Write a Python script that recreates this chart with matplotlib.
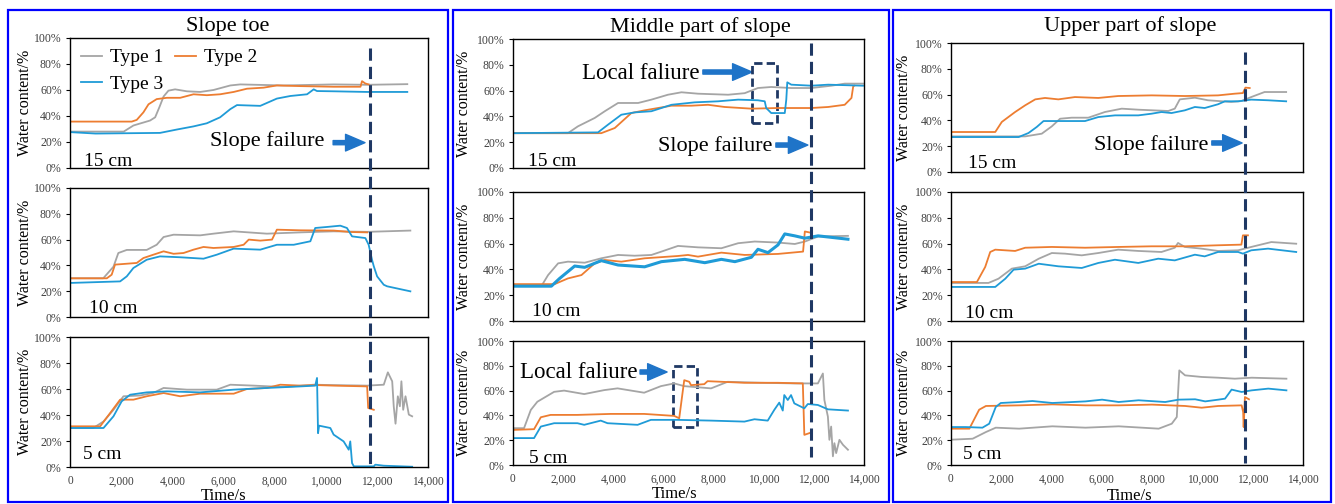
import numpy as np
import matplotlib
matplotlib.use('Agg')
import matplotlib.pyplot as plt
import matplotlib.transforms as mtransforms
from matplotlib.patches import Rectangle, FancyArrowPatch
from matplotlib.lines import Line2D

plt.rcParams['font.family'] = ['Liberation Serif', 'DejaVu Serif']

# ---- data (time in s, water content in %) ----
# slope toe, 15 cm
toe15_x1 = [0, 2100, 2480, 3130, 3330, 3500, 3660, 3850, 4110, 4570, 5090, 5610, 6270, 6660, 8350, 10310, 11620, 13190]
toe15_y1 = [28, 28, 32.7, 36.5, 39, 47, 55, 59.5, 60.5, 59, 58.5, 60, 63.5, 64.3, 63.5, 64.3, 64, 64.5]
toe15_x2 = [0, 2415, 2610, 2870, 3070, 3390, 3790, 4310, 4830, 5350, 5870, 6400, 6920, 7570, 8090, 9010, 10310, 11360, 11420, 11550, 11680]
toe15_y2 = [35.7, 35.7, 37, 42.8, 49, 53, 54, 54, 56.7, 56, 56.7, 58.5, 61, 61.8, 63.5, 63, 62.5, 62.5, 66.8, 65, 64.3]
toe15_x3 = [0, 1000, 3520, 4180, 4830, 5350, 5870, 6270, 6530, 7440, 8090, 8620, 9270, 9530, 9660, 10310, 11620, 13190]
toe15_y3 = [27.6, 26.5, 27, 29.6, 32, 34.4, 39, 45.3, 48.4, 47.8, 53.4, 55.4, 56.7, 60.5, 59.2, 59, 58.5, 58.5]
# slope toe, 10 cm
toe10_x1 = [0, 1300, 1700, 1890, 2220, 3000, 3390, 3660, 4050, 5090, 5610, 6400, 7700, 9010, 10310, 11620, 13310]
toe10_y1 = [30, 30, 39, 49.6, 52, 52, 56, 62, 63.8, 63.3, 64.6, 66.4, 64.6, 65.6, 66.4, 66, 67]
toe10_x2 = [0, 1440, 1630, 1760, 2220, 2610, 2870, 3260, 3660, 4050, 4440, 4830, 5220, 5610, 6400, 6790, 6990, 7440, 7900, 8090, 9010, 10310, 10960, 11620]
toe10_y2 = [30, 30, 32.8, 40.6, 41.3, 41.9, 45.7, 48.3, 50.9, 49, 49.6, 52.2, 54.3, 53.5, 54.3, 56, 60, 59.2, 60, 67.7, 67.2, 67, 65.9, 65.6]
toe10_x3 = [0, 1960, 2220, 2480, 3000, 3520, 4310, 5220, 5740, 6400, 7440, 8090, 8750, 9400, 9590, 10050, 10570, 10830, 11030, 11550, 11680, 11810, 11880, 12010, 12270, 12400, 13310]
toe10_y3 = [26.4, 27.6, 31.5, 38, 44.4, 47, 46.3, 45.2, 48.3, 53, 52.2, 56, 56, 58.7, 69, 69.8, 70.8, 69, 62.5, 61.2, 56, 44.4, 39.3, 31.5, 25, 23.8, 19.9]
# slope toe, 5 cm
toe5_x1 = [0, 910, 1310, 1700, 2090, 2740, 3260, 3660, 4570, 5740, 6270, 7180, 8350, 9530, 10310, 11620, 12270, 12430, 12600, 12660, 12730, 12820, 12900, 12960, 13030, 13120, 13250, 13380]
toe5_y1 = [30, 30, 35, 44, 54.4, 55, 57, 60.8, 59.5, 59.5, 63.3, 62.6, 61.5, 63.3, 63, 62.6, 63.3, 72.8, 65.9, 46.7, 33.3, 54.4, 46.7, 65.9, 44, 54.4, 40.3, 39]
toe5_x2 = [0, 1180, 1570, 1960, 2480, 3000, 3660, 4310, 5090, 6400, 6920, 7700, 8220, 9010, 9660, 10310, 11620, 11660, 11880]
toe5_y2 = [31.3, 31.3, 41.5, 51.8, 51.8, 54.4, 56.9, 54.4, 56.4, 56.4, 60, 60.8, 63.3, 62.6, 63, 62.6, 62, 45.4, 44]
toe5_x3 = [0, 1310, 1700, 2020, 2350, 3000, 3790, 5090, 6400, 7700, 9010, 9590, 9660, 9700, 9740, 10180, 10310, 10700, 10900, 10960, 11030, 11100, 11880, 11940, 12270, 13380]
toe5_y3 = [30, 30, 39, 50.5, 55.6, 57.4, 58.2, 57.4, 59.5, 60.8, 62, 62.6, 68.5, 26, 31.8, 30, 24.9, 19.7, 13.3, 19.7, 3, 0.5, 0.5, 1.8, 1, 0.2]

# middle part, 15 cm
mid15_x1 = [0, 2190, 2590, 3260, 3660, 4190, 4990, 5520, 6180, 6720, 7380, 8580, 9240, 9770, 10300, 11100, 11900, 12700, 13230, 13960]
mid15_y1 = [27, 27, 32.3, 38.8, 44, 50.4, 50.4, 53, 56.8, 58.7, 57.6, 56.8, 58, 62, 62.8, 62, 62, 63.8, 65.4, 65.4]
mid15_x2 = [0, 3520, 4060, 4720, 5250, 6320, 7110, 7780, 8440, 9510, 10570, 11900, 12570, 13230, 13500, 13570, 13610]
mid15_y2 = [27, 27, 31, 42.6, 44.7, 48.3, 48.3, 49, 47.3, 46, 46.5, 46.5, 47.3, 49, 54.3, 63.3, 63.8]
mid15_x3 = [0, 3390, 3790, 4320, 4850, 5520, 6320, 7250, 8180, 8980, 9770, 10040, 10100, 10300, 10840, 10900, 10940, 11100, 11900, 12570, 13960]
mid15_y3 = [27, 27.6, 33.6, 41.3, 43.1, 44, 49, 50.9, 51.7, 53, 52.5, 51.7, 46.5, 42.6, 42.6, 53, 66.4, 64.6, 63.8, 64.6, 63.8]
# middle part, 10 cm
mid10_x1 = [0, 1130, 1400, 1800, 2190, 2860, 3520, 4190, 4850, 5520, 5920, 6580, 7380, 8310, 8980, 9640, 10570, 11240, 11640, 12170, 13360]
mid10_y1 = [27, 27, 35.6, 44.7, 46, 45.2, 48.6, 51.2, 50.6, 51.2, 53.8, 58.2, 57.1, 56.4, 60.3, 61.6, 60.8, 59.7, 61.6, 65.5, 66]
mid10_x2 = [0, 1660, 2190, 2730, 3260, 3660, 4320, 5250, 6580, 6980, 7380, 8310, 9240, 10570, 11570, 11640, 11840]
mid10_y2 = [28.6, 28.6, 33, 35.6, 44.7, 47.3, 46, 48.6, 50.4, 51.2, 49.9, 53, 51.2, 52, 53.8, 69.4, 68.6]
mid10_x3 = [0, 1530, 1860, 2460, 2860, 3520, 4190, 5250, 5920, 6850, 7650, 8310, 8850, 9510, 9770, 10170, 10570, 10840, 11240, 11640, 12170, 13360]
mid10_y3 = [27, 27, 33, 42.6, 41.6, 46.8, 43.4, 42, 46, 47.8, 45.2, 47.8, 46, 49.4, 55.6, 53, 59, 67.5, 66, 64.2, 66, 63.4]
# middle part, 5 cm
mid5_x1 = [0, 440, 710, 970, 1640, 2040, 2840, 3640, 4170, 5230, 5900, 6430, 6830, 7900, 8560, 9890, 11220, 12160, 12360, 12420, 12560, 12620, 12690, 12760, 12820, 12890, 13020, 13160, 13360]
mid5_y1 = [29.7, 29.7, 44.4, 51, 59, 60, 57.2, 60.4, 61.8, 58.3, 63.6, 65.8, 63.6, 61.8, 67.1, 66.3, 65.8, 65.8, 73.8, 52.4, 39, 20.3, 31, 7, 17.6, 9.6, 20.3, 16.3, 12.3]
mid5_x2 = [0, 840, 1110, 1500, 2570, 3900, 5230, 6430, 6630, 6760, 6830, 7030, 7100, 7630, 7760, 9230, 10560, 11560, 11620, 11820]
mid5_y2 = [28.3, 28.9, 38.5, 40.4, 40.4, 41.2, 41.2, 39.6, 37.7, 57.8, 68.4, 67.1, 64.4, 65.2, 67.6, 66.3, 66.3, 65.8, 24.3, 25.7]
mid5_x3 = [0, 840, 1110, 1640, 2570, 2840, 3500, 3770, 4970, 5500, 6560, 7900, 9230, 9630, 10160, 10420, 10620, 10760, 10820, 10960, 11090, 11220, 11620, 11760, 12160, 12560, 13360]
mid5_y3 = [21.7, 21.7, 31, 33.7, 33.7, 32.4, 35.8, 33.7, 32.4, 36.4, 36.4, 35.8, 35, 36.9, 35.8, 44.4, 50.3, 43.9, 56.4, 52.4, 56.4, 49.7, 45.7, 49.2, 48.4, 44.9, 43.9]

# upper part, 15 cm
up15_x1 = [0, 2950, 3610, 4010, 4340, 4800, 5460, 6120, 6790, 7450, 8640, 8900, 9100, 9700, 10220, 11140, 11550, 11940, 12470, 13330]
up15_y1 = [27.6, 27.6, 29.7, 35.4, 41.3, 42.1, 42.1, 46.5, 49.1, 48.3, 47.3, 49.1, 56.3, 57.6, 55.6, 54.3, 55, 58.1, 62, 62]
up15_x2 = [0, 1760, 2020, 2550, 2950, 3350, 3740, 4270, 4930, 5860, 6650, 7980, 9300, 10620, 11280, 11610, 11710, 11880]
up15_y2 = [31, 31, 38.8, 46.5, 51.7, 56.3, 57.4, 56.3, 58.1, 57.4, 58.9, 59.4, 58.9, 59.4, 60.7, 61.2, 65.4, 65.1]
up15_x3 = [0, 2690, 3080, 3410, 3680, 4270, 5330, 5860, 6520, 7450, 7980, 8370, 8770, 9300, 9700, 10090, 10620, 10890, 11420, 11940, 12610, 13330]
up15_y3 = [27.1, 27.1, 30.2, 34.9, 39.5, 39.5, 39.5, 42.6, 43.9, 43.9, 45.2, 46.5, 45.7, 47.8, 50.4, 49.6, 52.5, 54.8, 54.8, 56.1, 55.6, 54.8]
# upper part, 10 cm
up10_x1 = [0, 1490, 1890, 2420, 2950, 3490, 4010, 4540, 5200, 5860, 6650, 7450, 8370, 8900, 9030, 9300, 9960, 10620, 11420, 11940, 12740, 13730]
up10_y1 = [29.5, 29.5, 32.8, 40.6, 42.4, 48.3, 52.7, 52.2, 50.9, 52.7, 55.3, 54.3, 53.5, 56.8, 60.5, 57.4, 56.1, 54.3, 54.8, 57.4, 61.2, 59.9]
up10_x2 = [0, 1030, 1360, 1560, 1760, 2550, 2950, 4010, 5330, 6650, 7980, 9300, 10620, 11550, 11610, 11810]
up10_y2 = [30.2, 30.2, 41.9, 53.5, 55.3, 54.3, 56.8, 57.4, 56.8, 57.4, 57.9, 57.9, 58.7, 59.2, 66.4, 66.4]
up10_x3 = [0, 1760, 2160, 2490, 2950, 3490, 4270, 5200, 5860, 6520, 7450, 8240, 8900, 9700, 10090, 10620, 11420, 11610, 11940, 12610, 13730]
up10_y3 = [26.4, 26.4, 32.8, 39.8, 40.6, 44.4, 42.4, 41.1, 45, 47.5, 45, 48.3, 47, 51.4, 50.1, 53.5, 53.5, 52.2, 54.8, 56.1, 53.5]
# upper part, 5 cm
up5_x1 = [0, 860, 1390, 1780, 2710, 4030, 5350, 6670, 8260, 8780, 8980, 9080, 9310, 9970, 10630, 11290, 11960, 13340]
up5_y1 = [20.4, 21.2, 26.6, 30.1, 29.3, 31.2, 30.1, 31.2, 29.3, 33.3, 38.7, 76.3, 72.3, 71, 70.4, 69.6, 70.4, 69.6]
up5_x2 = [0, 730, 1120, 1390, 2710, 4030, 5350, 6670, 7990, 9310, 9970, 10630, 11560, 11620, 11640, 11690, 11850]
up5_y2 = [29.3, 29.3, 44.6, 47.6, 48.1, 48.9, 48.1, 48.1, 48.7, 47.6, 46.2, 47.6, 48.1, 42.7, 30.6, 54.8, 53]
up5_x3 = [0, 590, 1250, 1520, 1780, 1980, 2710, 3240, 4030, 5350, 6010, 6670, 7460, 8520, 9050, 9710, 10110, 10630, 10900, 11160, 11560, 11960, 12620, 13340]
up5_y3 = [30.6, 30.6, 30.1, 33.3, 46.8, 50, 50.8, 51.6, 50, 51.3, 52.7, 50.8, 52.2, 50.8, 52.7, 53, 51.3, 52.7, 53.5, 60.8, 58.9, 60.2, 61.6, 60.2]

series_names = ['Type 1', 'Type 2', 'Type 3']
depth_labels = ['15 cm', '10 cm', '5 cm']
titles = ['Slope toe', 'Middle part of slope', 'Upper part of slope']
failure_time = [11750, 11900, 11680]
x_ticks = [0, 2000, 4000, 6000, 8000, 10000, 12000, 14000]
toe_xticklabels = ['0', '2,000', '4,000', '6,000', '8,000', '1,0000', '12,000', '14,000']
std_xticklabels = ['0', '2,000', '4,000', '6,000', '8,000', '10,000', '12,000', '14,000']
y_ticks = [0, 20, 40, 60, 80, 100]

colors = ['#a5a5a5', '#ed7d31', '#1f9bd7']
navy = '#1f3864'
arrow_blue = '#1f74c8'

W, H = 1335, 504
fig = plt.figure(figsize=(W / 100, H / 100), dpi=100)


def add_ax(l, r, t, b):
    return fig.add_axes([l / W, 1 - b / H, (r - l) / W, (b - t) / H])


panels = [
    dict(title=titles[0], tx=228, ty=27, left=70, right=428,
         rows=[(38, 168), (188, 317), (337, 467)],
         data=[[(toe15_x1, toe15_y1), (toe15_x2, toe15_y2), (toe15_x3, toe15_y3)],
               [(toe10_x1, toe10_y1), (toe10_x2, toe10_y2), (toe10_x3, toe10_y3)],
               [(toe5_x1, toe5_y1), (toe5_x2, toe5_y2), (toe5_x3, toe5_y3)]],
         xt=toe_xticklabels, ylab_x=-0.103, xlab=(0.43, -0.16),
         depth=[(0.04, 0.012), (0.053, 0.03), (0.037, 0.06)],
         vline=(48, 465), box=(8, 448)),
    dict(title=titles[1], tx=700, ty=27, left=513, right=864,
         rows=[(39, 168), (192, 321), (341, 465)],
         data=[[(mid15_x1, mid15_y1), (mid15_x2, mid15_y2), (mid15_x3, mid15_y3)],
               [(mid10_x1, mid10_y1), (mid10_x2, mid10_y2), (mid10_x3, mid10_y3)],
               [(mid5_x1, mid5_y1), (mid5_x2, mid5_y2), (mid5_x3, mid5_y3)]],
         xt=std_xticklabels, ylab_x=-0.117, xlab=(0.46, -0.17),
         depth=[(0.042, 0.012), (0.054, 0.04), (0.045, 0.02)],
         vline=(43, 457), box=(453, 889)),
    dict(title=titles[2], tx=1130, ty=26, left=951, right=1303,
         rows=[(43, 172), (192, 321), (341, 465)],
         data=[[(up15_x1, up15_y1), (up15_x2, up15_y2), (up15_x3, up15_y3)],
               [(up10_x1, up10_y1), (up10_x2, up10_y2), (up10_x3, up10_y3)],
               [(up5_x1, up5_y1), (up5_x2, up5_y2), (up5_x3, up5_y3)]],
         xt=std_xticklabels, ylab_x=-0.111, xlab=(0.506, -0.185),
         depth=[(0.048, 0.03), (0.04, 0.02), (0.034, 0.05)],
         vline=(52, 463), box=(893, 1331)),
]

all_axes = []
for p_i, p in enumerate(panels):
    fig.add_artist(Rectangle((p['box'][0] / W, 1 - 502 / H), (p['box'][1] - p['box'][0]) / W, 492 / H,
                             transform=fig.transFigure, fill=False, ec='#0000ff', lw=1.6))
    fig.text(p['tx'] / W, 1 - p['ty'] / H, p['title'], ha='center', va='center', fontsize=16)
    axes = []
    for r_i, (t, b) in enumerate(p['rows']):
        ax = add_ax(p['left'], p['right'], t, b)
        lines = []
        for s_i, (xs, ys) in enumerate(p['data'][r_i]):
            lw = 1.3
            if p_i == 1 and r_i == 1 and s_i == 2:
                lw = 2.2
            ln, = ax.plot(xs, ys, color=colors[s_i], lw=lw, label=series_names[s_i])
            lines.append(ln)
        ax.set_xlim(0, 14000)
        ax.set_ylim(0, 100)
        ax.set_yticks(y_ticks)
        ax.set_yticklabels([f'{v}%' for v in y_ticks])
        ax.set_xticks(x_ticks)
        if r_i == 2:
            ax.set_xticklabels(p['xt'])
            ax.set_xlabel('Time/s', fontsize=12)
            ax.xaxis.set_label_coords(*p['xlab'])
        else:
            ax.set_xticklabels([])
        ax.tick_params(axis='x', length=0, pad=6, labelsize=8.3, labelcolor='#404040')
        ax.tick_params(axis='y', length=3, width=0.8, pad=3, labelsize=8.5, labelcolor='#404040')
        for s in ax.spines.values():
            s.set_linewidth(1.0)
        ax.set_ylabel('Water content/%', fontsize=11.5)
        ax.yaxis.set_label_coords(p['ylab_x'], 0.5)
        dx, dy = p['depth'][r_i]
        ax.text(dx, dy, depth_labels[r_i], transform=ax.transAxes, fontsize=14, va='baseline')
        axes.append(ax)
        if p_i == 0 and r_i == 0:
            ax.legend([lines[0], lines[2], lines[1]], [series_names[0], series_names[2], series_names[1]],
                      ncol=2, loc='upper left', bbox_to_anchor=(0.0, 1.0), frameon=False,
                      fontsize=14, handlelength=1.1, handletextpad=0.4, columnspacing=0.6,
                      labelspacing=0.45, borderpad=0.45, borderaxespad=0.1)
    # failure line across all three rows
    tr = mtransforms.blended_transform_factory(axes[2].transData, fig.transFigure)
    fig.add_artist(Line2D([failure_time[p_i]] * 2, [1 - p['vline'][0] / H, 1 - p['vline'][1] / H],
                          transform=tr, color=navy, lw=2.2, ls=(0, (4, 2))))
    all_axes.append(axes)


def arrow(ax, x0, x1, y):
    ax.add_patch(FancyArrowPatch((x0, y), (x1, y), transform=ax.transAxes,
                                 arrowstyle='simple,head_length=14,head_width=12,tail_width=3',
                                 mutation_scale=1, color=arrow_blue, shrinkA=0, shrinkB=0,
                                 clip_on=False))


def dbox(ax, x0, x1, y0, y1):
    ax.add_patch(Rectangle((x0, y1), x1 - x0, y0 - y1, transform=ax.transAxes, fill=False,
                           ec=navy, lw=2.0, ls=(0, (3, 1.5)), clip_on=False))


# annotations
a = all_axes[0][0]
a.text(0.391, 0.21, 'Slope failure', transform=a.transAxes, fontsize=16, va='center')
arrow(a, 0.735, 0.824, 0.195)

a = all_axes[1][0]
a.text(0.197, 0.73, 'Local faliure', transform=a.transAxes, fontsize=16.5, va='center')
arrow(a, 0.541, 0.681, 0.744)
dbox(a, 0.681, 0.752, 0.814, 0.349)
a.text(0.413, 0.17, 'Slope failure', transform=a.transAxes, fontsize=16, va='center')
arrow(a, 0.749, 0.840, 0.178)

a = all_axes[1][2]
a.text(0.02, 0.742, 'Local faliure', transform=a.transAxes, fontsize=16.5, va='center')
arrow(a, 0.362, 0.439, 0.75)
dbox(a, 0.456, 0.524, 0.798, 0.306)

a = all_axes[2][0]
a.text(0.406, 0.209, 'Slope failure', transform=a.transAxes, fontsize=16, va='center')
arrow(a, 0.741, 0.827, 0.225)

fig.savefig('out.png', dpi=100)
